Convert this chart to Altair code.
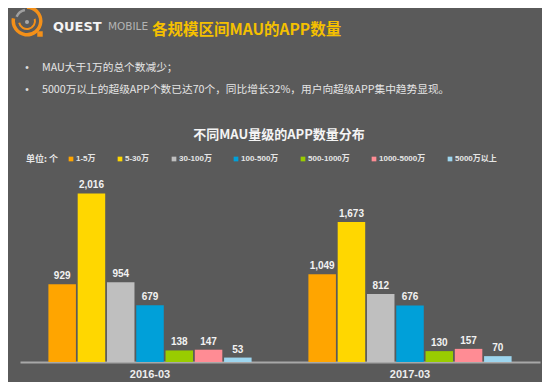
import altair as alt
import pandas as pd

periods = ["2016-03", "2017-03"]
categories = ["1-5万", "5-30万", "30-100万", "100-500万", "500-1000万", "1000-5000万", "5000万以上"]
values_2016 = [929, 2016, 954, 679, 138, 147, 53]
values_2017 = [1049, 1673, 812, 676, 130, 157, 70]
colors = ["#ffa500", "#ffd700", "#bfbfbf", "#00a0d9", "#99cc00", "#ff8c94", "#9dd5ee"]

title_text = "各规模区间MAU的APP数量"
bullets = ["MAU大于1万的总个数减少；",
           "5000万以上的超级APP个数已达70个，同比增长32%，用户向超级APP集中趋势显现。"]
chart_title = "不同MAU量级的APP数量分布"
unit_text = "单位: 个"

rows = []
for p, vals in zip(periods, [values_2016, values_2017]):
    for c, v in zip(categories, vals):
        rows.append({"period": p, "category": c, "value": v})
df = pd.DataFrame(rows)

FONT = "Liberation Sans, Arial, Noto Sans CJK SC"
CJK = "Noto Sans CJK SC, Liberation Sans"

base = alt.Chart(df).encode(
    x=alt.X("period:N", sort=periods, title=None,
            scale=alt.Scale(paddingInner=0, paddingOuter=0),
            axis=alt.Axis(labelAngle=0, ticks=False, tickSize=0, labelPadding=6,
                          labelFontSize=11, labelFontWeight="bold", labelColor="#eeeeee",
                          labelFont=FONT, domainColor="#a8a8a8", domainWidth=2, grid=False)),
    xOffset=alt.XOffset("category:N", sort=categories,
                        scale=alt.Scale(paddingInner=0.06, paddingOuter=0.97)),
    y=alt.Y("value:Q", scale=alt.Scale(domain=[0, 2200]), axis=None),
)

bars = base.mark_bar().encode(
    color=alt.Color("category:N", sort=categories,
                    scale=alt.Scale(domain=categories, range=colors),
                    legend=alt.Legend(orient="none", legendX=47, legendY=-23,
                                      direction="horizontal", title=None,
                                      symbolType="square", symbolSize=22,
                                      symbolStrokeWidth=0, labelFontSize=8,
                                      labelFont=FONT, labelFontWeight="bold",
                                      labelColor="#e6e6e6", columnPadding=20,
                                      labelOffset=1, padding=0))
)

vlabels = base.mark_text(dy=-8, fontSize=10, fontWeight="bold", font=FONT,
                         color="#f2f2f2").encode(text=alt.Text("value:Q", format=","))


def txt(s, x, y, **kw):
    return alt.Chart(pd.DataFrame({"t": [s]})).mark_text(baseline="middle", **kw).encode(
        x=alt.value(x), y=alt.value(y), text="t:N")


OX, OY = 20, 178  # plot origin in page coordinates

layers = [bars, vlabels]
layers.append(txt(title_text, 152 - OX, 30 - OY, align="left", fontSize=15.5,
                  fontWeight="bold", font=CJK, color="#f5c000"))
layers.append(txt("QUEST", 53 - OX, 27 - OY, align="left", fontSize=13,
                  fontWeight="bold", font="DejaVu Sans, Liberation Sans", color="#f4f4f4"))
layers.append(txt("MOBILE", 108 - OX, 27 - OY, align="left", fontSize=10.5,
                  font="DejaVu Sans, Liberation Sans", color="#b4b4b4"))
for i, b in enumerate(bullets):
    yy = [68, 90][i]
    layers.append(txt("•", 27 - OX, yy - OY, align="center", fontSize=10, font=FONT, color="#e0e0e0"))
    layers.append(txt(b, 42 - OX, yy - OY, align="left", fontSize=10.7, font=CJK, color="#e6e6e6"))
layers.append(txt(chart_title, 279 - OX, 135 - OY, align="center", fontSize=13,
                  fontWeight="bold", font=CJK, color="#f4f4f4"))
layers.append(txt(unit_text, 26 - OX, 159 - OY, align="left", fontSize=9,
                  fontWeight="bold", font=CJK, color="#e6e6e6"))

# logo
logo = pd.DataFrame({"k": [0]})
cx, cy = 27 - OX, 21 - OY
layers.append(alt.Chart(logo).mark_arc(innerRadius=12, outerRadius=15.5, theta=0, theta2=4.9,
                                       color="#f39019").encode(x=alt.value(cx), y=alt.value(cy)))
layers.append(alt.Chart(logo).mark_arc(innerRadius=10, outerRadius=12.5, theta=5.1, theta2=6.1,
                                       color="#a0a0a0").encode(x=alt.value(cx), y=alt.value(cy)))
layers.append(alt.Chart(logo).mark_arc(innerRadius=7, outerRadius=9, theta=1.3, theta2=4.5,
                                       color="#f39019").encode(x=alt.value(cx), y=alt.value(cy)))
layers.append(alt.Chart(logo).mark_arc(innerRadius=0, outerRadius=2, theta=0, theta2=6.3,
                                       color="#a8a8a8").encode(x=alt.value(cx), y=alt.value(cy + 1)))
layers.append(alt.Chart(logo).mark_point(shape="square", filled=True, size=30, color="#f39019",
                                         opacity=1).encode(x=alt.value(cx + 13), y=alt.value(cy + 13)))

chart = alt.layer(*layers).properties(
    width=520, height=184,
    padding={"left": 12, "top": 170, "right": 2, "bottom": 20},
    autosize=alt.AutoSizeParams(type="none"),
    background="#5a5a5a",
).configure_view(stroke=None)

chart.save("out.html", embed_options={"renderer": "svg", "actions": False})
